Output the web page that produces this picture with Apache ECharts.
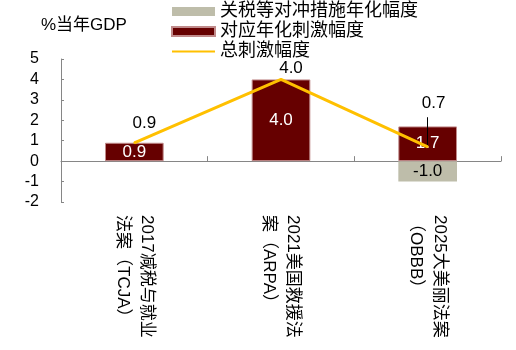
<!DOCTYPE html>
<html><head><meta charset="utf-8">
<script src="https://cdn.jsdelivr.net/npm/echarts@6/dist/echarts.min.js"></script>
<style>html,body{margin:0;padding:0;background:#fff}#c{width:516px;height:350px}</style>
</head><body><div id="c"></div>
<script>
var categories = ['2017减税与就业\n法案（TCJA）', '2021美国救援法\n案（ARPA）', '2025大美丽法案\n（OBBB）'];
var seriesNames = ['关税等对冲措施年化幅度', '对应年化刺激幅度', '总刺激幅度'];
var tariffOffset = [null, null, -1.0];
var stimulus = [0.9, 4.0, 1.7];
var totalStimulus = [0.9, 4.0, 0.7];
var yTicks = [-2, -1, 0, 1, 2, 3, 4, 5];

var FONT = '"Liberation Sans", Arial, "Noto Sans CJK SC", sans-serif';
var chart = echarts.init(document.getElementById('c'), null, {renderer: 'canvas'});
var fmt = function (p) { return p.value == null ? '' : Number(p.value).toFixed(1); };
var leaderIdx = 2;

chart.setOption({
  animation: false,
  textStyle: {fontFamily: FONT},
  title: {
    text: '%当年GDP', left: 36, top: 12,
    textStyle: {fontSize: 17, fontWeight: 'normal', color: '#000', fontFamily: FONT}
  },
  legend: {
    orient: 'vertical', left: 171, top: 2, padding: 0,
    itemWidth: 43, itemHeight: 9, itemGap: 1,
    textStyle: {fontSize: 18, lineHeight: 19, color: '#000', fontFamily: FONT},
    data: [
      {name: seriesNames[0], icon: 'rect'},
      {name: seriesNames[1], icon: 'rect'},
      {name: seriesNames[2], itemStyle: {opacity: 0}}
    ]
  },
  grid: {left: 61, right: 15, top: 59, bottom: 148, containLabel: false, outerBoundsMode: 'none'},
  xAxis: {
    type: 'category', data: categories,
    axisLine: {onZero: true, lineStyle: {color: '#868686', width: 1}},
    axisTick: {show: true, inside: true, length: 5, alignWithLabel: false, lineStyle: {color: '#868686'}},
    axisLabel: {interval: 0, rotate: -90, margin: 13, fontSize: 17, lineHeight: 24, color: '#000', fontFamily: FONT},
    splitLine: {show: false}
  },
  yAxis: {
    type: 'value', min: yTicks[0], max: yTicks[yTicks.length - 1], interval: 1,
    axisLine: {show: true, lineStyle: {color: '#868686', width: 1}},
    axisTick: {show: true, inside: true, length: 3, lineStyle: {color: '#868686'}},
    axisLabel: {margin: 22, fontSize: 16, color: '#000', fontFamily: FONT},
    splitLine: {show: false}
  },
  series: [
    {
      name: seriesNames[0], type: 'bar', stack: 'a', barWidth: '40%',
      data: tariffOffset,
      itemStyle: {color: '#BEBDAA'},
      label: {show: true, position: 'inside', formatter: fmt, fontSize: 17, color: '#000', fontFamily: FONT}
    },
    {
      name: seriesNames[1], type: 'bar', stack: 'a', barWidth: '40%',
      data: stimulus,
      itemStyle: {color: '#660000', borderColor: '#C08A8A', borderWidth: 1},
      label: {show: true, position: 'inside', formatter: fmt, fontSize: 17, color: '#fff', fontFamily: FONT}
    },
    {
      name: seriesNames[2], type: 'line', z: 5,
      data: totalStimulus,
      symbol: 'circle', symbolSize: 2,
      itemStyle: {color: '#FFC000'},
      lineStyle: {color: '#FFC000', width: 3},
      label: {show: true, position: 'top', formatter: fmt, fontSize: 17, color: '#000', fontFamily: FONT},
      labelLayout: function (p) {
        if (p.dataIndex === 0) return {dx: 10, dy: -5};
        if (p.dataIndex === 1) return {dx: 10, dy: 3};
        return {dx: 6, dy: -29};
      },
      markLine: {
        silent: true, symbol: ['none', 'none'], animation: false,
        label: {show: false},
        lineStyle: {color: '#000', width: 1, type: 'solid'},
        data: [[
          {coord: [leaderIdx, totalStimulus[leaderIdx] + 0.05]},
          {coord: [leaderIdx, totalStimulus[leaderIdx] + 1.45]}
        ]]
      }
    }
  ]
});
</script>
</body></html>
